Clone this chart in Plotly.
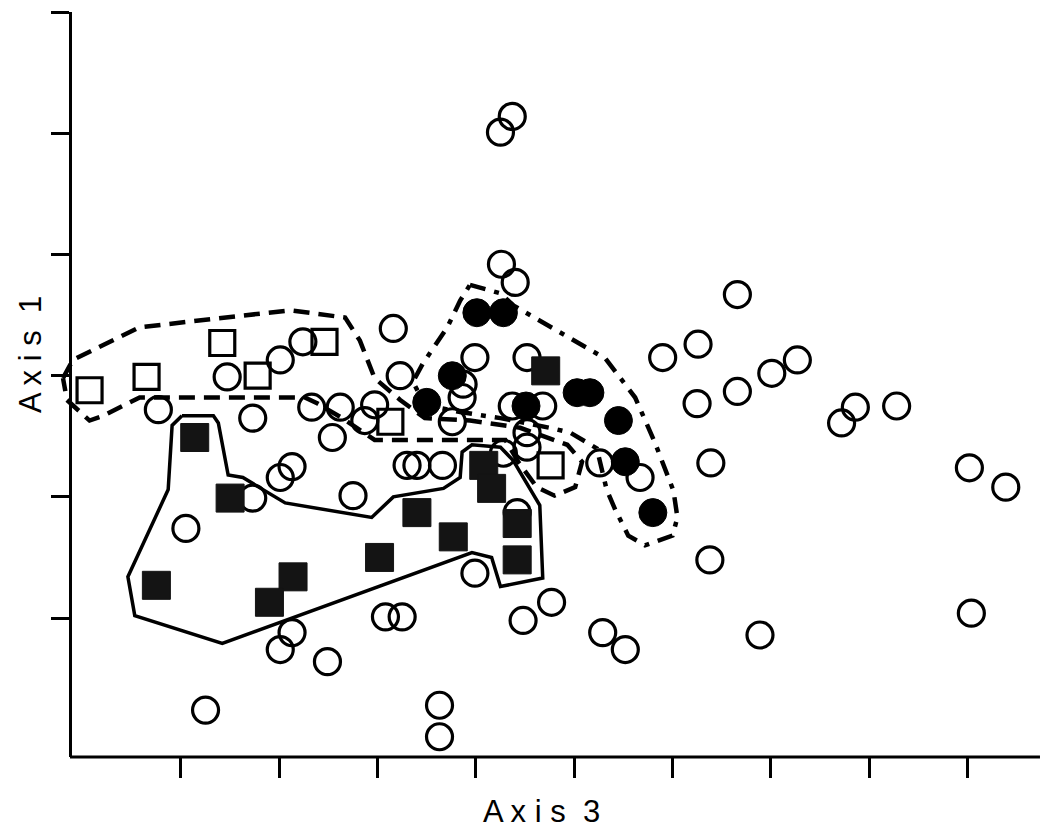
import plotly.graph_objects as go

# Ordination scores (Axis 3 horizontal, Axis 1 vertical)
open_circle_x = [4.37, 4.25, 4.26, 4.40, 6.66, 3.16, 2.24, 2.01, 1.47, 3.99, 4.52, 5.90, 6.26,
                 7.01, 7.27, 6.66, 6.25, 3.23, 0.77, 1.73, 2.33, 2.62, 2.87, 2.97, 2.54, 3.86,
                 3.87, 4.37, 4.68, 3.76, 4.52, 4.52, 4.28, 3.30, 3.40, 3.66, 5.26, 5.67, 7.72,
                 7.86, 8.28, 9.02, 9.39, 6.39, 2.13, 2.01, 1.73, 1.05, 2.75, 3.99, 2.13, 2.01,
                 2.49, 3.08, 3.25, 4.48, 4.77, 1.25, 3.63, 3.63, 6.38, 5.29, 5.52, 6.89, 9.04,
                 4.42]
open_circle_y = [5.14, 5.01, 3.92, 3.77, 3.67, 3.39, 3.28, 3.13, 2.99, 3.15, 3.15, 3.15, 3.26,
                 3.02, 3.13, 2.87, 2.77, 3.00, 2.72, 2.65, 2.74, 2.74, 2.63, 2.76, 2.49, 2.82,
                 2.93, 2.75, 2.75, 2.62, 2.53, 2.41, 2.36, 2.26, 2.26, 2.26, 2.28, 2.16, 2.61,
                 2.74, 2.75, 2.24, 2.08, 2.28, 2.25, 2.16, 1.99, 1.74, 2.01, 1.37, 0.88, 0.74,
                 0.64, 1.01, 1.01, 0.98, 1.13, 0.24, 0.28, 0.02, 1.48, 0.88, 0.74, 0.86, 1.04,
                 1.87]

filled_circle_x = [4.01, 4.28, 3.76, 3.50, 4.51, 5.03, 5.16, 5.45, 5.52, 5.80]
filled_circle_y = [3.52, 3.52, 3.00, 2.78, 2.75, 2.86, 2.86, 2.63, 2.29, 1.87]

filled_square_x = [1.14, 1.50, 0.75, 2.14, 1.90, 3.02, 3.40, 3.77, 4.42, 4.42, 4.08, 4.16, 4.71]
filled_square_y = [2.49, 1.99, 1.27, 1.34, 1.13, 1.50, 1.87, 1.67, 1.78, 1.48, 2.26, 2.07, 3.04]

open_square_x = [0.07, 0.65, 1.42, 1.78, 2.46, 3.13, 4.76]
open_square_y = [2.88, 2.99, 3.27, 3.00, 3.28, 2.62, 2.26]

# Group outlines
solid_hull_x = [1.01, 1.33, 1.38, 1.48, 1.63, 1.83, 2.06, 2.94, 3.16, 3.67, 3.84, 3.86, 3.96,
                4.25, 4.38, 4.65, 4.68, 4.25, 4.16, 3.96, 1.42, 0.53, 0.46, 0.87, 0.91, 1.01]
solid_hull_y = [2.67, 2.67, 2.61, 2.18, 2.16, 2.06, 1.95, 1.83, 2.00, 2.07, 2.16, 2.37, 2.43,
                2.41, 2.30, 1.93, 1.33, 1.26, 1.50, 1.54, 0.79, 1.02, 1.34, 2.06, 2.59, 2.67]

dash_hull_x = [-0.20, -0.10, 0.58, 2.11, 2.67, 2.82, 2.97, 3.23, 3.48, 3.94, 4.45, 4.93, 5.08,
               5.01, 4.80, 4.62, 4.43, 4.30, 2.97, 2.62, 2.39, 2.26, 0.58, 0.21, 0.07, -0.16,
               -0.20]
dash_hull_y = [2.98, 3.13, 3.40, 3.54, 3.48, 3.29, 2.98, 2.80, 2.65, 2.63, 2.57, 2.43, 2.29,
               2.08, 2.01, 2.08, 2.29, 2.47, 2.47, 2.66, 2.77, 2.82, 2.82, 2.67, 2.63, 2.80,
               2.98]

dashdot_hull_x = [3.94, 4.25, 4.38, 4.78, 5.32, 5.62, 5.82, 6.01, 6.05, 6.00, 5.72, 5.55, 5.42,
                  5.33, 5.23, 4.96, 4.75, 4.25, 3.84, 3.48, 3.36, 3.46, 3.71, 3.84, 3.94]
dashdot_hull_y = [3.75, 3.68, 3.58, 3.39, 3.14, 2.82, 2.45, 2.05, 1.83, 1.68, 1.60, 1.68, 1.89,
                  2.06, 2.40, 2.53, 2.57, 2.65, 2.70, 2.76, 2.95, 3.10, 3.40, 3.62, 3.75]

x_ticks = [1, 2, 3, 4, 5, 6, 7, 8, 9]
y_ticks = [1, 2, 3, 4, 5, 6]

INK = "#000000"
LABEL_FONT = dict(family="Liberation Sans, Arial, sans-serif", size=31, color=INK)

fig = go.Figure()

fig.add_trace(go.Scatter(x=solid_hull_x, y=solid_hull_y, mode="lines",
                         line=dict(color=INK, width=3.5), hoverinfo="skip"))
fig.add_trace(go.Scatter(x=dash_hull_x, y=dash_hull_y, mode="lines",
                         line=dict(color=INK, width=4.5, dash="16px,9px"), hoverinfo="skip"))
fig.add_trace(go.Scatter(x=dashdot_hull_x, y=dashdot_hull_y, mode="lines",
                         line=dict(color=INK, width=4.5, dash="16px,9px,5px,9px"),
                         hoverinfo="skip"))

fig.add_trace(go.Scatter(x=open_circle_x, y=open_circle_y, mode="markers",
                         marker=dict(symbol="circle-open", size=26, color=INK,
                                     line=dict(width=3.2, color=INK))))
fig.add_trace(go.Scatter(x=open_square_x, y=open_square_y, mode="markers",
                         marker=dict(symbol="square-open", size=25, color=INK,
                                     line=dict(width=3.2, color=INK))))
fig.add_trace(go.Scatter(x=filled_square_x, y=filled_square_y, mode="markers",
                         marker=dict(symbol="square", size=28, color="#141414",
                                     line=dict(width=1, color="#141414"))))
fig.add_trace(go.Scatter(x=filled_circle_x, y=filled_circle_y, mode="markers",
                         marker=dict(symbol="circle", size=28, color=INK,
                                     line=dict(width=1, color=INK))))

W, H = 1044, 831
ML, MR, MT, MB = 40, 0, 12, 74
plot_w = W - ML - MR
plot_h = H - MT - MB
yaxis_pos = (70 - ML) / plot_w

fig.update_layout(
    width=W, height=H,
    margin=dict(l=ML, r=MR, t=MT, b=MB, pad=0),
    paper_bgcolor="white", plot_bgcolor="white",
    showlegend=False,
    xaxis=dict(range=[-0.434, 9.779], showgrid=False, zeroline=False, showline=False,
               tickvals=x_ticks, showticklabels=False, ticks="outside",
               ticklen=20, tickwidth=3, tickcolor=INK),
    yaxis=dict(range=[-0.147, 6.002], showgrid=False, zeroline=False, showline=True,
               linecolor=INK, linewidth=3, anchor="free", position=yaxis_pos,
               tickvals=y_ticks, showticklabels=False, ticks="outside",
               ticklen=18, tickwidth=3, tickcolor=INK),
    shapes=[dict(type="line", xref="paper", yref="paper", x0=yaxis_pos, x1=0.996,
                 y0=0, y1=0, line=dict(color=INK, width=3))],
    annotations=[
        dict(text="A x i s \u00a03", xref="paper", yref="paper",
             x=(541 - ML) / plot_w, y=(757 - 811) / plot_h,
             xanchor="center", yanchor="middle", showarrow=False, font=LABEL_FONT),
        dict(text="A x i s \u00a01", xref="paper", yref="paper",
             x=(30 - ML) / plot_w, y=(757 - 355) / plot_h, textangle=-90,
             xanchor="center", yanchor="middle", showarrow=False, font=LABEL_FONT),
    ],
)

fig.write_html("out.html")
